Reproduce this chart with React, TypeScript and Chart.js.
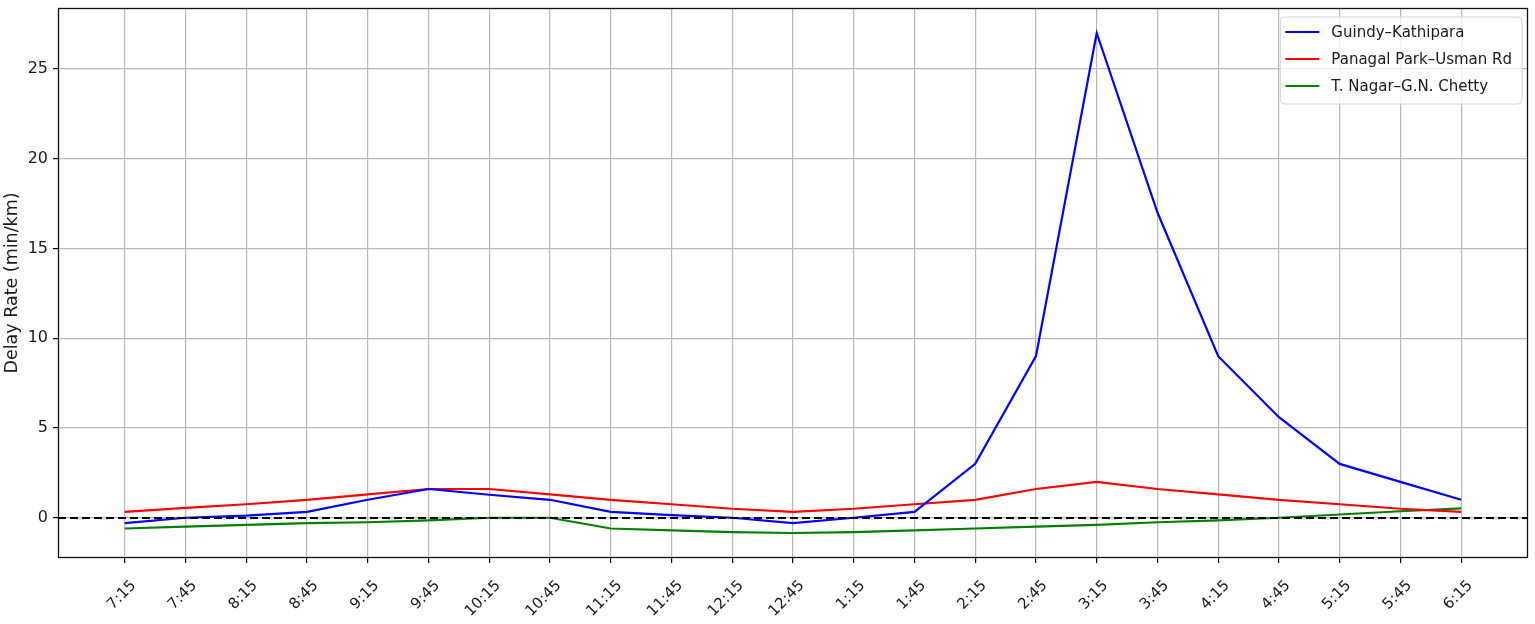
import React, { useEffect, useRef } from 'react';
import { Chart, registerables } from 'chart.js';

Chart.register(...registerables);

const timeLabels = ['7:15', '7:45', '8:15', '8:45', '9:15', '9:45', '10:15', '10:45', '11:15', '11:45', '12:15', '12:45', '1:15', '1:45', '2:15', '2:45', '3:15', '3:45', '4:15', '4:45', '5:15', '5:45', '6:15'];
const guindyKathipara = [-0.3, 0, 0.12, 0.33, 1.0, 1.6, 1.28, 1.0, 0.33, 0.15, 0, -0.3, 0, 0.33, 3.0, 9.0, 27.0, 17.0, 9.0, 5.6, 3.0, 2.0, 1.0];
const panagalUsman = [0.33, 0.55, 0.75, 1.0, 1.3, 1.6, 1.6, 1.3, 1.0, 0.75, 0.5, 0.33, 0.5, 0.75, 1.0, 1.6, 2.0, 1.6, 1.3, 1.0, 0.75, 0.5, 0.33];
const tnagarChetty = [-0.6, -0.5, -0.4, -0.3, -0.25, -0.15, 0, 0, -0.6, -0.7, -0.8, -0.85, -0.8, -0.7, -0.6, -0.5, -0.4, -0.25, -0.15, 0, 0.18, 0.36, 0.52];
const seriesNames = ['Guindy–Kathipara', 'Panagal Park–Usman Rd', 'T. Nagar–G.N. Chetty'];
const seriesColors = ['#0000ff', '#ff0000', '#008000'];
const yTickValues = [0, 5, 10, 15, 20, 25];
const yAxisTitle = 'Delay Rate (min/km)';

const FONT = '"DejaVu Sans", sans-serif';
const TEXT = '#1a1a1a';

const framePlugin = {
  id: 'frameAndZero',
  afterDatasetsDraw(chart: any) {
    const { ctx, chartArea, scales } = chart;
    const y0 = Math.round(scales.y.getPixelForValue(0));
    ctx.save();
    ctx.strokeStyle = '#000';
    ctx.lineWidth = 2.2;
    ctx.setLineDash([8, 4]);
    ctx.beginPath();
    ctx.moveTo(chartArea.left, y0);
    ctx.lineTo(chartArea.right, y0);
    ctx.stroke();
    ctx.restore();
  },
  afterDraw(chart: any) {
    const { ctx, chartArea } = chart;
    ctx.save();
    ctx.strokeStyle = '#111';
    ctx.lineWidth = 1.3;
    ctx.strokeRect(
      Math.round(chartArea.left) + 0.5,
      Math.round(chartArea.top) + 0.5,
      Math.round(chartArea.right - chartArea.left) - 1,
      Math.round(chartArea.bottom - chartArea.top) - 1
    );

    // legend inside the plot area, upper right
    const datasets = chart.data.datasets;
    ctx.font = `15px ${FONT}`;
    let maxW = 0;
    datasets.forEach((d: any) => {
      maxW = Math.max(maxW, ctx.measureText(d.label).width);
    });
    const padL = 5;
    const lineLen = 34;
    const gap = 12;
    const padR = 10;
    const rowH = 27;
    const w = padL + lineLen + gap + maxW + padR;
    const h = 87;
    const right = chartArea.right - 6;
    const top = chartArea.top + 9;
    const left = right - w;
    const r = 4;
    ctx.beginPath();
    ctx.moveTo(left + r, top);
    ctx.lineTo(right - r, top);
    ctx.arcTo(right, top, right, top + r, r);
    ctx.lineTo(right, top + h - r);
    ctx.arcTo(right, top + h, right - r, top + h, r);
    ctx.lineTo(left + r, top + h);
    ctx.arcTo(left, top + h, left, top + h - r, r);
    ctx.lineTo(left, top + r);
    ctx.arcTo(left, top, left + r, top, r);
    ctx.closePath();
    ctx.fillStyle = 'rgba(255,255,255,0.8)';
    ctx.fill();
    ctx.strokeStyle = '#d6d6d6';
    ctx.lineWidth = 1;
    ctx.stroke();

    datasets.forEach((d: any, i: number) => {
      const cy = top + 15 + i * rowH;
      ctx.strokeStyle = d.borderColor;
      ctx.lineWidth = 2.2;
      ctx.setLineDash([]);
      ctx.beginPath();
      ctx.moveTo(left + padL, cy);
      ctx.lineTo(left + padL + lineLen, cy);
      ctx.stroke();
      ctx.fillStyle = TEXT;
      ctx.textAlign = 'left';
      ctx.textBaseline = 'middle';
      ctx.fillText(d.label, left + padL + lineLen + gap, cy + 1);
    });
    ctx.restore();
  },
};

export default function App() {
  const canvasRef = useRef<HTMLCanvasElement | null>(null);

  useEffect(() => {
    document.body.style.margin = '0';
    const canvas = canvasRef.current;
    if (!canvas) return;
    const n = timeLabels.length;
    const allVals = [...guindyKathipara, ...panagalUsman, ...tnagarChetty];
    const dMin = Math.min(...allVals);
    const dMax = Math.max(...allVals);
    const yPad = (dMax - dMin) * 0.05;
    const xPad = (n - 1) * 0.05;

    const series = [guindyKathipara, panagalUsman, tnagarChetty];
    const chart = new Chart(canvas, {
      type: 'line',
      data: {
        datasets: series.map((vals, k) => ({
          label: seriesNames[k],
          data: vals.map((v, i) => ({ x: i, y: v })),
          borderColor: seriesColors[k],
          backgroundColor: seriesColors[k],
          borderWidth: 2.2,
          pointRadius: 0,
          tension: 0,
          fill: false,
        })),
      },
      options: {
        responsive: false,
        animation: false,
        events: [],
        layout: { padding: { top: 8, right: 7, left: 0, bottom: 0 } },
        plugins: {
          legend: { display: false },
          tooltip: { enabled: false },
        },
        scales: {
          x: {
            type: 'linear',
            min: -xPad,
            max: n - 1 + xPad,
            afterBuildTicks: (axis: any) => {
              axis.ticks = timeLabels.map((_, i) => ({ value: i }));
            },
            afterFit: (axis: any) => {
              axis.height = 66;
              axis.paddingLeft = 0;
              axis.paddingRight = 0;
            },
            border: { display: false },
            grid: {
              color: '#b8b8b8',
              lineWidth: 1.2,
              drawTicks: true,
              tickLength: 5,
              tickColor: '#000',
            },
            ticks: {
              autoSkip: false,
              maxRotation: 45,
              minRotation: 45,
              padding: 14,
              labelOffset: 9,
              color: TEXT,
              font: { family: FONT, size: 15 },
              callback: (v: any) => timeLabels[Math.round(Number(v))] ?? '',
            },
          },
          y: {
            type: 'linear',
            min: dMin - yPad,
            max: dMax + yPad,
            afterBuildTicks: (axis: any) => {
              axis.ticks = yTickValues.map((v) => ({ value: v }));
            },
            afterFit: (axis: any) => {
              axis.width = 58;
              axis.paddingTop = 0;
              axis.paddingBottom = 0;
            },
            border: { display: false },
            grid: {
              color: '#b8b8b8',
              lineWidth: 1.2,
              drawTicks: true,
              tickLength: 5,
              tickColor: '#000',
            },
            ticks: {
              padding: 5,
              color: TEXT,
              font: { family: FONT, size: 16 },
            },
            title: {
              display: true,
              text: yAxisTitle,
              color: TEXT,
              font: { family: FONT, size: 17.5 },
              padding: { top: 2, bottom: 0 },
            },
          },
        },
      },
      plugins: [framePlugin],
    });
    return () => chart.destroy();
  }, []);

  return (
    <div style={{ width: 1535, height: 624 }}>
      <canvas ref={canvasRef} width={1535} height={624} style={{ display: 'block' }} />
    </div>
  );
}
